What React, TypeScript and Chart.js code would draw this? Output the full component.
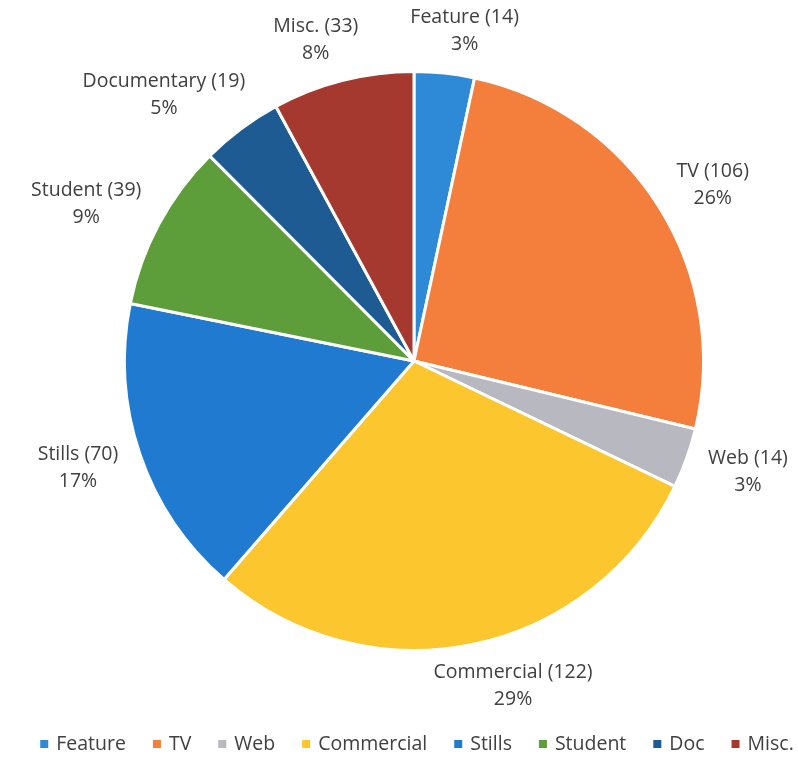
import React, { useEffect, useRef } from "react";
import { Chart, registerables } from "chart.js";

Chart.register(...registerables);

const categories = ["Feature", "TV", "Web", "Commercial", "Stills", "Student", "Documentary", "Misc."];
const legendNames = ["Feature", "TV", "Web", "Commercial", "Stills", "Student", "Doc", "Misc."];
const counts = [14, 106, 14, 122, 70, 39, 19, 33];
const percentLabels = ["3%", "26%", "3%", "29%", "17%", "9%", "5%", "8%"];
const colors = ["#2E89D7", "#F47E3B", "#B7B8C0", "#FCC62E", "#1F7AD0", "#5E9E3A", "#1E5B93", "#A6392F"];

const FONT = "'Open Sans', sans-serif";
const TEXT_COLOR = "#404040";

const labelPlugin = {
  id: "outsideLabels",
  afterDraw(chart: any) {
    const ctx = chart.ctx;
    const meta = chart.getDatasetMeta(0);
    ctx.save();
    ctx.font = `19.5px ${FONT}`;
    ctx.fillStyle = TEXT_COLOR;
    ctx.textAlign = "center";
    ctx.textBaseline = "middle";
    const lineH = 27;
    meta.data.forEach((arc: any, i: number) => {
      const { x, y, startAngle, endAngle, outerRadius } = arc.getProps(
        ["x", "y", "startAngle", "endAngle", "outerRadius"],
        true
      );
      const mid = (startAngle + endAngle) / 2;
      const ux = Math.cos(mid);
      const uy = Math.sin(mid);
      const gap = 24;
      const ax = x + ux * (outerRadius + gap);
      const ay = y + uy * (outerRadius + gap);
      const l1 = `${categories[i]} (${counts[i]})`;
      const l2 = percentLabels[i];
      const w = Math.max(ctx.measureText(l1).width, ctx.measureText(l2).width);
      const hw = w / 2;
      const cx = ax + Math.sign(ux) * Math.sqrt(Math.abs(ux)) * hw;
      const cy = ay + uy * 18;
      ctx.fillText(l1, cx, cy - lineH / 2);
      ctx.fillText(l2, cx, cy + lineH / 2);
    });

    // legend
    ctx.font = `19.5px ${FONT}`;
    ctx.textAlign = "left";
    const box = 8;
    const boxGap = 8;
    const itemGap = 27;
    const widths = legendNames.map((n) => box + boxGap + ctx.measureText(n).width);
    const total = widths.reduce((a, b) => a + b, 0) + itemGap * (legendNames.length - 1);
    let lx = 417 - total / 2;
    const ly = chart.height - 14;
    legendNames.forEach((n, i) => {
      ctx.fillStyle = colors[i];
      ctx.fillRect(lx, ly - box / 2, box, box);
      ctx.fillStyle = TEXT_COLOR;
      ctx.fillText(n, lx + box + boxGap, ly);
      lx += widths[i] + itemGap;
    });
    ctx.restore();
  },
};

export default function App() {
  const ref = useRef<HTMLCanvasElement | null>(null);
  useEffect(() => {
    if (!ref.current) return;
    const chart = new Chart(ref.current, {
      type: "pie",
      data: {
        labels: categories,
        datasets: [
          {
            data: counts,
            backgroundColor: colors,
            borderColor: "#ffffff",
            borderWidth: 3,
          },
        ],
      },
      options: {
        animation: false,
        responsive: false,
        maintainAspectRatio: false,
        layout: { padding: { top: 70, left: 123, right: 93, bottom: 106 } },
        plugins: {
          legend: { display: false },
          tooltip: { enabled: false },
        },
      },
      plugins: [labelPlugin],
    });
    return () => chart.destroy();
  }, []);
  return (
    <div style={{ position: "absolute", left: 0, top: 0, width: 798, height: 758, background: "#fff" }}>
      <canvas ref={ref} width={798} height={758} style={{ width: 798, height: 758 }} />
    </div>
  );
}
